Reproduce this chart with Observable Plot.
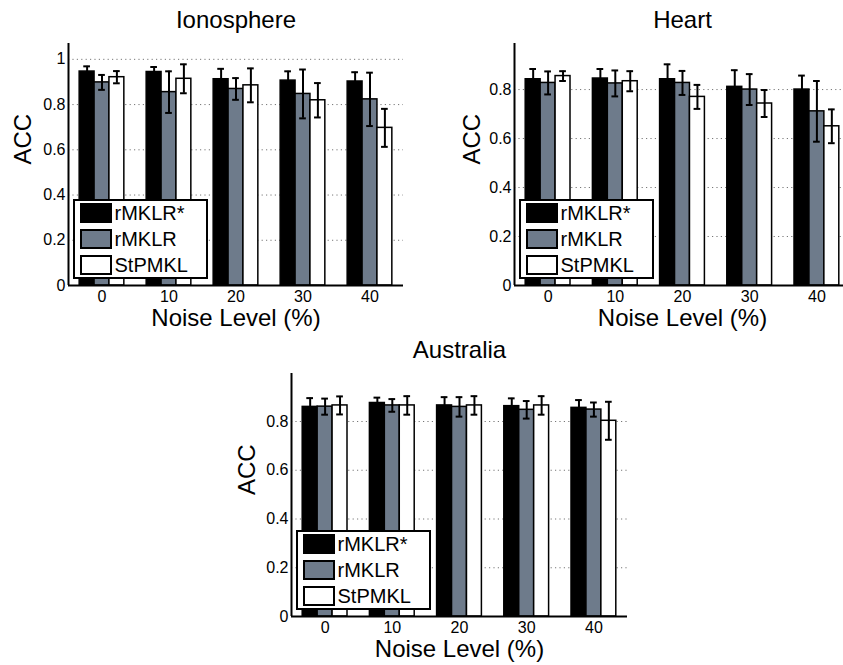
<!DOCTYPE html>
<html>
<head>
<meta charset="utf-8">
<script src="https://cdn.jsdelivr.net/npm/d3@7"></script>
<script src="https://cdn.jsdelivr.net/npm/@observablehq/plot@0.6"></script>
<style>
  body { margin: 0; background: #fff; }
  #root { position: relative; width: 843px; height: 665px; overflow: hidden; background: #fff;
          font-family: "Liberation Sans", Arial, Helvetica, sans-serif; color: #000; }
  .panel { position: absolute; }
  .panel svg { display: block; overflow: visible; }
  .legend { position: absolute; border: 2px solid #000; background: #fff; box-sizing: border-box; }
  .sw { position: absolute; width: 32px; height: 20px; border: 2px solid #000; box-sizing: border-box; }
  .lt { position: absolute; font-size: 20px; line-height: 20px; white-space: nowrap; }
</style>
</head>
<body>
<div id="root"></div>
<script>
// ---- data ----
const noiseLevels = ["0", "10", "20", "30", "40"];
const methods = ["rMKLR*", "rMKLR", "StPMKL"];
const methodColors = ["#000000", "#6e7b8b", "#ffffff"];

// Ionosphere
const ionAccStar = [0.946, 0.944, 0.912, 0.906, 0.902];
const ionAccR    = [0.898, 0.855, 0.869, 0.847, 0.823];
const ionAccSt   = [0.921, 0.914, 0.885, 0.819, 0.697];
const ionErrStar = [0.023, 0.022, 0.046, 0.041, 0.041];
const ionErrR    = [0.033, 0.092, 0.048, 0.108, 0.118];
const ionErrSt   = [0.027, 0.064, 0.075, 0.076, 0.084];

// Heart
const heartAccStar = [0.842, 0.845, 0.842, 0.811, 0.800];
const heartAccR    = [0.827, 0.825, 0.827, 0.800, 0.711];
const heartAccSt   = [0.855, 0.834, 0.770, 0.743, 0.650];
const heartErrStar = [0.042, 0.039, 0.061, 0.068, 0.057];
const heartErrR    = [0.047, 0.053, 0.049, 0.063, 0.124];
const heartErrSt   = [0.020, 0.041, 0.049, 0.055, 0.069];

// Australia
const ausAccStar = [0.860, 0.876, 0.866, 0.863, 0.856];
const ausAccR    = [0.861, 0.866, 0.860, 0.848, 0.849];
const ausAccSt   = [0.866, 0.866, 0.866, 0.866, 0.803];
const ausErrStar = [0.036, 0.022, 0.034, 0.032, 0.032];
const ausErrR    = [0.033, 0.026, 0.040, 0.036, 0.029];
const ausErrSt   = [0.037, 0.038, 0.038, 0.038, 0.078];

const ticksWithOne = [0, 0.2, 0.4, 0.6, 0.8, 1];
const ticksNoOne   = [0, 0.2, 0.4, 0.6, 0.8];

// ---- drawing ----
const FONT = '"Liberation Sans", Arial, Helvetica, sans-serif';
const groupWidth = 2 / 3;
const barW = groupWidth / methods.length;
const capHalf = 0.05;

function makePanel(cfg) {
  const rows = noiseLevels.flatMap((n, i) => methods.map((m, j) => ({
    noise: n, gi: i + 1, si: j, method: m, acc: cfg.acc[j][i], err: cfg.err[j][i]
  })));
  const center = d => d.gi - groupWidth / 2 + (d.si + 0.5) * barW;
  const caps = rows.flatMap(d => [{...d, yv: d.acc + d.err}, {...d, yv: d.acc - d.err}]);

  const plot = Plot.plot({
    width: cfg.width, height: cfg.height,
    marginLeft: cfg.ml, marginRight: cfg.mr, marginTop: cfg.mt, marginBottom: cfg.mb,
    style: {fontFamily: FONT, color: "#000", background: "transparent", overflow: "visible"},
    x: {type: "linear", domain: [0.5, noiseLevels.length + 0.5], axis: null},
    y: {domain: cfg.yDomain, axis: null},
    color: {domain: methods, range: methodColors},
    marks: [
      Plot.gridY(cfg.yTicks.filter(t => t > 0), {stroke: "#777", strokeOpacity: 1, strokeWidth: 1, strokeDasharray: "1.2,3.2"}),
      Plot.rect(rows, {
        x1: d => d.gi - groupWidth / 2 + d.si * barW,
        x2: d => d.gi - groupWidth / 2 + (d.si + 1) * barW,
        y1: d => 0, y2: "acc",
        fill: "method", stroke: "#000", strokeWidth: 1.5
      }),
      Plot.ruleX(rows, {x: center, y1: d => d.acc - d.err, y2: d => d.acc + d.err, stroke: "#000", strokeWidth: 2}),
      Plot.ruleY(caps, {y: "yv", x1: d => center(d) - capHalf, x2: d => center(d) + capHalf, stroke: "#000", strokeWidth: 2}),
      Plot.ruleY([0], {stroke: "#000", strokeWidth: 2}),
      Plot.ruleX([0.5], {stroke: "#000", strokeWidth: 2}),
      Plot.axisY(cfg.yTicks, {tickSize: 0, tickPadding: 3, fontSize: 16, label: null, tickFormat: d => String(d)}),
      Plot.axisX(noiseLevels.map((_, i) => i + 1), {tickSize: 0, tickPadding: 5, fontSize: 16, label: null, tickFormat: d => noiseLevels[d - 1]}),
      Plot.text([cfg.title], {text: d => d, frameAnchor: "top", dy: -23, fontSize: 24, lineAnchor: "middle"}),
      Plot.text(["ACC"], {text: d => d, frameAnchor: "left", dx: -cfg.accOff, rotate: -90, fontSize: 24, lineAnchor: "middle"}),
      Plot.text(["Noise Level (%)"], {text: d => d, frameAnchor: "bottom", dy: 33, fontSize: 24, lineAnchor: "middle"})
    ]
  });

  const div = document.createElement("div");
  div.className = "panel";
  div.style.left = cfg.left + "px";
  div.style.top = cfg.top + "px";
  div.style.width = cfg.width + "px";
  div.style.height = cfg.height + "px";
  div.appendChild(plot);

  // legend (inside the axes, lower-left)
  const lg = document.createElement("div");
  lg.className = "legend";
  lg.style.left = (cfg.ml + 4.5) + "px";
  lg.style.top = (cfg.height - cfg.mb - 86) + "px";
  lg.style.width = "135px";
  lg.style.height = "80px";
  methods.forEach((m, k) => {
    const sw = document.createElement("div");
    sw.className = "sw";
    sw.style.left = "5px";
    sw.style.top = (2 + k * 26.2) + "px";
    sw.style.background = methodColors[k];
    lg.appendChild(sw);
    const t = document.createElement("div");
    t.className = "lt";
    t.style.left = "40px";
    t.style.top = (2 + k * 26.2) + "px";
    t.textContent = m;
    lg.appendChild(t);
  });
  div.appendChild(lg);
  document.getElementById("root").appendChild(div);
}

makePanel({
  title: "Ionosphere", left: 0, top: 0, width: 420, height: 330,
  ml: 68, mr: 17, mt: 43, mb: 45, yDomain: [0, 1.07], yTicks: ticksWithOne, accOff: 45,
  acc: [ionAccStar, ionAccR, ionAccSt], err: [ionErrStar, ionErrR, ionErrSt]
});
makePanel({
  title: "Heart", left: 420, top: 0, width: 440, height: 330,
  ml: 94, mr: 10, mt: 43, mb: 45, yDomain: [0, 0.988], yTicks: ticksNoOne, accOff: 42,
  acc: [heartAccStar, heartAccR, heartAccSt], err: [heartErrStar, heartErrR, heartErrSt]
});
makePanel({
  title: "Australia", left: 220, top: 330, width: 420, height: 335,
  ml: 71, mr: 13, mt: 43, mb: 49, yDomain: [0, 0.997], yTicks: ticksNoOne, accOff: 44,
  acc: [ausAccStar, ausAccR, ausAccSt], err: [ausErrStar, ausErrR, ausErrSt]
});
</script>
</body>
</html>
